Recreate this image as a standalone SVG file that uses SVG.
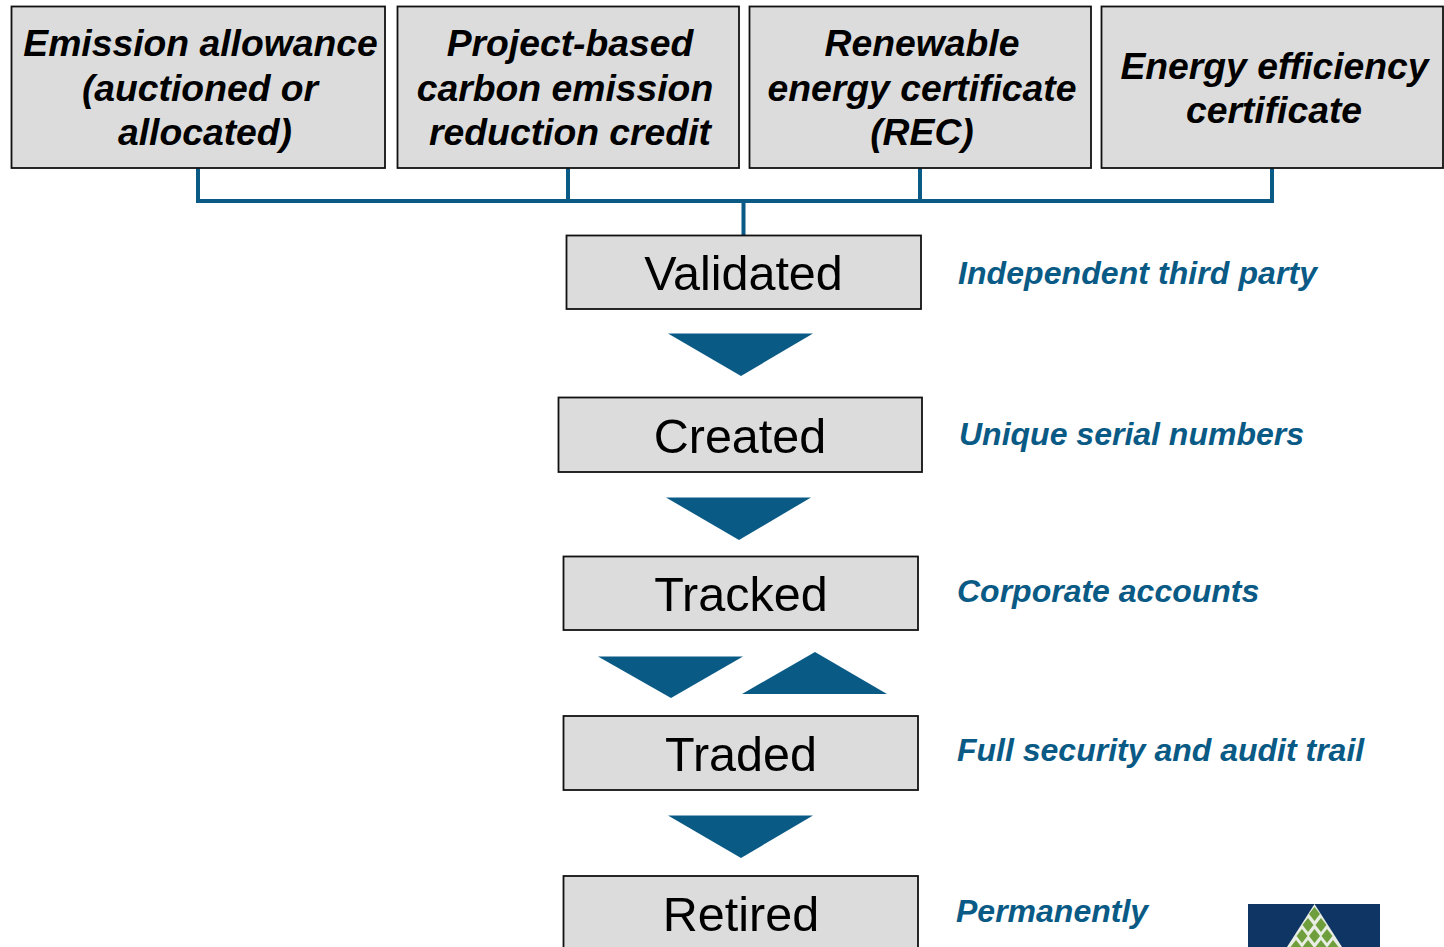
<svg xmlns="http://www.w3.org/2000/svg" width="1444" height="947" viewBox="0 0 1444 947">
<style>
text{font-family:"Liberation Sans",Arial,sans-serif;text-anchor:middle}
.b{fill:#dcdcdc;stroke:#111;stroke-width:1.800}
.t{font-size:37.300px;font-weight:bold;font-style:italic;fill:#000}
.s{font-size:48.500px;fill:#000}
.n{font-size:32px;font-weight:bold;font-style:italic;fill:#0a5a86;text-anchor:start}
.a{fill:#0a5a86}
.c{fill:none;stroke:#0a5a86;stroke-width:4}
.d{fill:#6f9f3c}
</style>
<defs><polygon id="dm" points="0,-7 5.500,0 0,7 -5.500,0"/></defs>
<rect width="1444" height="947" fill="#fff"/>
<g id="connectors">
<path class="c" d="M198 168V201H1272V168M568 168V201M920 168V201M743.500 201V235"/>
<polygon class="a" points="668,333.500 813,333.500 741,376"/>
<polygon class="a" points="666,497.500 811,497.500 739,540"/>
<polygon class="a" points="598,656.500 743,656.500 671,698"/>
<polygon class="a" points="742,694 887,694 815,652"/>
<polygon class="a" points="668,815.500 813,815.500 741,858"/>
</g>
<g id="n1"><rect class="b" x="11.500" y="6.500" width="373.500" height="161.500"/><text class="t" x="200.500" y="56">Emission allowance</text><text class="t" x="200" y="101">(auctioned or</text><text class="t" x="205" y="145">allocated)</text></g>
<g id="n2"><rect class="b" x="397.500" y="6.500" width="341.500" height="161.500"/><text class="t" x="570" y="56">Project-based</text><text class="t" x="565" y="101">carbon emission</text><text class="t" x="570" y="145">reduction credit</text></g>
<g id="n3"><rect class="b" x="749.500" y="6.500" width="341.500" height="161.500"/><text class="t" x="922" y="56">Renewable</text><text class="t" x="922" y="101">energy certificate</text><text class="t" x="922" y="145">(REC)</text></g>
<g id="n4"><rect class="b" x="1101.500" y="6.500" width="341.500" height="161.500"/><text class="t" x="1274.500" y="79">Energy efficiency</text><text class="t" x="1274" y="123">certificate</text></g>
<g id="validated"><rect class="b" x="566.500" y="235.500" width="354.500" height="73.500"/><text class="s" x="743.500" y="290">Validated</text></g>
<g id="created"><rect class="b" x="558.500" y="397.500" width="363.500" height="74.500"/><text class="s" x="740" y="453">Created</text></g>
<g id="tracked"><rect class="b" x="563.500" y="556.500" width="354.500" height="73.500"/><text class="s" x="741" y="611">Tracked</text></g>
<g id="traded"><rect class="b" x="563.500" y="716" width="354.500" height="74"/><text class="s" x="741" y="771">Traded</text></g>
<g id="retired"><rect class="b" x="563.500" y="876" width="354.500" height="74"/><text class="s" x="741" y="931">Retired</text></g>
<g id="notes">
<text class="n" x="958" y="284" textLength="359">Independent third party</text>
<text class="n" x="959" y="445">Unique serial numbers</text>
<text class="n" x="957" y="602">Corporate accounts</text>
<text class="n" x="957" y="761">Full security and audit trail</text>
<text class="n" x="956" y="922">Permanently</text>
</g>
<g id="logo">
<rect x="1248" y="904" width="132" height="43" fill="#0f3564"/>
<polygon points="1314.500,904 1342,947 1287,947" fill="#e8eee4"/>
<use href="#dm" class="d" x="1314.500" y="914"/>
<use href="#dm" class="d" x="1308" y="925"/><use href="#dm" class="d" x="1321" y="925"/>
<use href="#dm" class="d" x="1302" y="936"/><use href="#dm" class="d" x="1314.500" y="936"/><use href="#dm" class="d" x="1327" y="936"/>
<use href="#dm" class="d" x="1296" y="947"/><use href="#dm" class="d" x="1308" y="947"/><use href="#dm" class="d" x="1321" y="947"/><use href="#dm" class="d" x="1333" y="947"/>
</g>
</svg>
